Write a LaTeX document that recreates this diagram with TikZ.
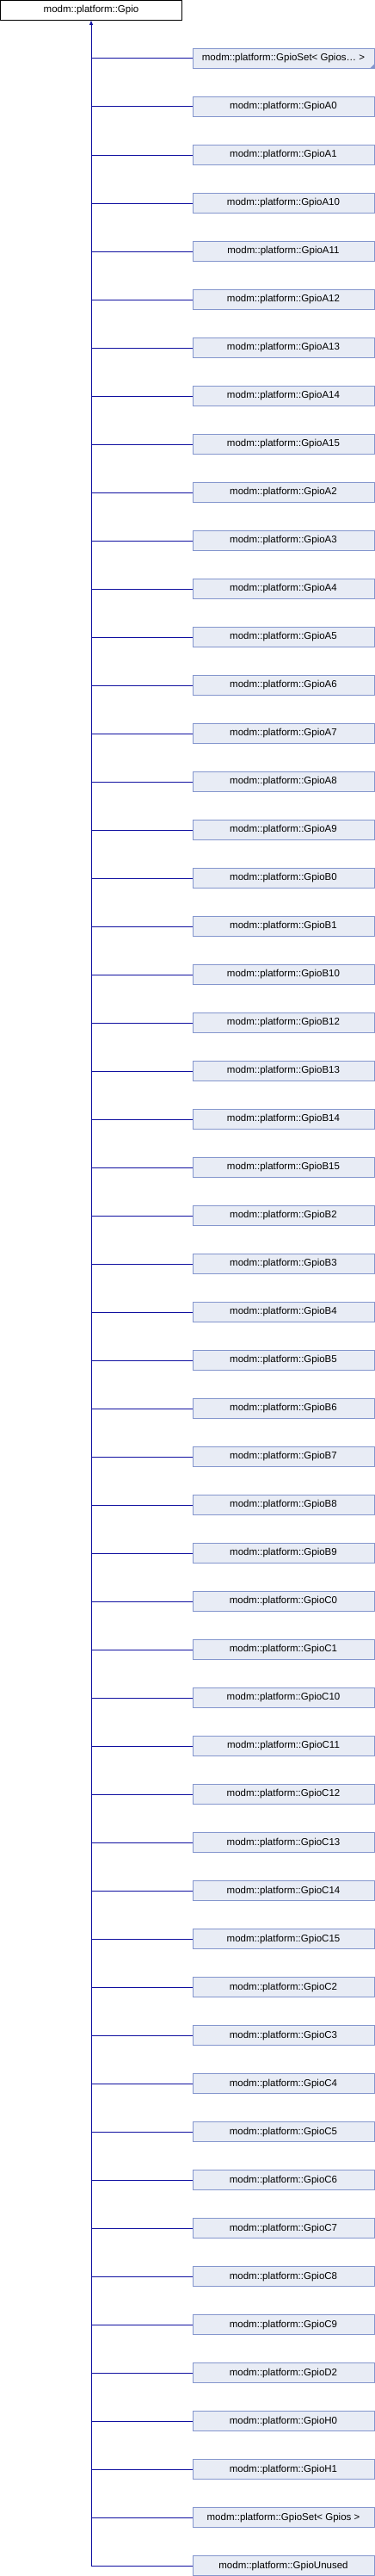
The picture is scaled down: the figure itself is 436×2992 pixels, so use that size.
\documentclass[tikz,border=0pt]{standalone}
\usepackage{fontspec}
\setmainfont{Liberation Sans}
\usetikzlibrary{arrows.meta}

\definecolor{boxfill}{RGB}{232,236,245}
\definecolor{boxline}{RGB}{132,150,205}
\definecolor{edgeblue}{RGB}{16,16,160}

\begin{document}
\begin{tikzpicture}[x=1pt,y=-1pt,
    classbox/.style={draw=black, fill=white, line width=1pt, inner sep=0pt,
        minimum width=211pt, minimum height=23pt, font=\fontsize{11.5}{14}\selectfont},
    derived/.style={classbox, draw=boxline, fill=boxfill},
    inherit/.style={edgeblue, line width=1pt}]
    \useasboundingbox (0,0) rectangle (436,2992);

    % Base class
    \node[classbox] (gpio) at (106,12) {modm::platform::Gpio};

    % Derived classes
    \foreach \cls [count=\i] in {{GpioSet< Gpios\ldots{} >},
        GpioA0, GpioA1, GpioA10, GpioA11, GpioA12, GpioA13, GpioA14, GpioA15,
        GpioA2, GpioA3, GpioA4, GpioA5, GpioA6, GpioA7, GpioA8, GpioA9,
        GpioB0, GpioB1, GpioB10, GpioB12, GpioB13, GpioB14, GpioB15,
        GpioB2, GpioB3, GpioB4, GpioB5, GpioB6, GpioB7, GpioB8, GpioB9,
        GpioC0, GpioC1, GpioC10, GpioC11, GpioC12, GpioC13, GpioC14, GpioC15,
        GpioC2, GpioC3, GpioC4, GpioC5, GpioC6, GpioC7, GpioC8, GpioC9,
        GpioD2, GpioH0, GpioH1, {GpioSet< Gpios >}, GpioUnused} {
        \node[derived] (c\i) at (329.5,{68+56*(\i-1)}) {modm::platform::\cls};
        \draw[inherit] (c\i.west) -- (c\i.west -| gpio.south);
    }

    % Template marker
    \fill[boxline] (c1.south east) -- ++(-6,0) -- ++(6,-6) -- cycle;

    % Inheritance trunk
    \coordinate (trunkend) at (gpio.south |- c53.west);
    \draw[inherit, -{Triangle[width=4pt,length=5pt]}] (trunkend) -- (gpio.south);
\end{tikzpicture}
\end{document}
